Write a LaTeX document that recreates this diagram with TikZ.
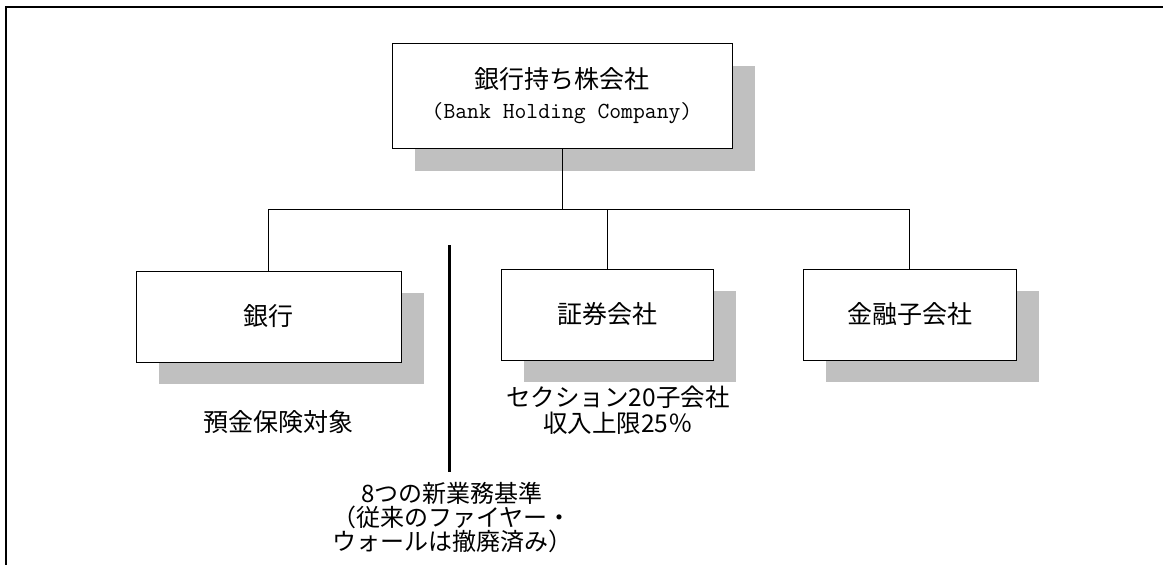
\documentclass[tikz,border=0pt]{standalone}
\usepackage{fontspec}
\setmainfont{Noto Sans CJK JP}
\usetikzlibrary{shadows}
\definecolor{shadowgray}{HTML}{C0C0C0}
\begin{document}
\begin{tikzpicture}[x=1pt,y=-1pt,
  orgbox/.style={draw=black, fill=white, line width=1pt, inner sep=0pt,
    minimum height=91pt, font=\fontsize{25}{30}\selectfont,
    drop shadow={shadow xshift=23pt, shadow yshift=-22pt, fill=shadowgray, opacity=1}},
  note/.style={inner sep=0pt, align=center},
  link/.style={line width=1pt, draw=black}]
\useasboundingbox (0,0) rectangle (1163,565);
\fill[white] (0,0) rectangle (1163,565);
% frame
\coordinate (frTR) at (1163,7);
\coordinate (frTL) at (6,7);
\coordinate (frBL) at (6,565);
\draw[line width=2pt] (frTR) -- (frTL) -- (frBL);
% boxes
\node[orgbox, minimum width=340pt, minimum height=105pt, align=center] (hold) at (562,96)
  {\fontsize{25}{32}\selectfont 銀行持ち株会社\\{\ttfamily\fontsize{23}{32}\selectfont (Bank Holding Company)}};
\node[orgbox, minimum width=265pt] (bank) at (268.5,316.5) {銀行};
\node[orgbox, minimum width=212pt] (sec) at (607,314.5) {証券会社};
\node[orgbox, minimum width=213pt] (fin) at (909.5,314.5) {金融子会社};
% connectors
\coordinate (bus) at (562,209);
\draw[link] (hold.south) -- (hold.south |- bus);
\draw[link] (bank.north) -- (bank.north |- bus) -- (fin.north |- bus) -- (fin.north);
\draw[link] (sec.north) -- (sec.north |- bus);
% notes
\node[note, font=\fontsize{25}{28}\selectfont] (dep) at (278,422) {預金保険対象};
\node[note, font=\fontsize{24.5}{26}\selectfont] (secnote) at (618,410) {セクション20子会社\\収入上限25％};
\node[note, font=\fontsize{24}{24}\selectfont] (wallnote) at (452,518) {8つの新業務基準\\（従来のファイヤー・\\ウォールは撤廃済み）};
% wall line
\coordinate (wallT) at (449,245);
\coordinate (wallB) at (449,472);
\draw[line width=3pt] (wallT) -- (wallB);
\end{tikzpicture}
\end{document}
